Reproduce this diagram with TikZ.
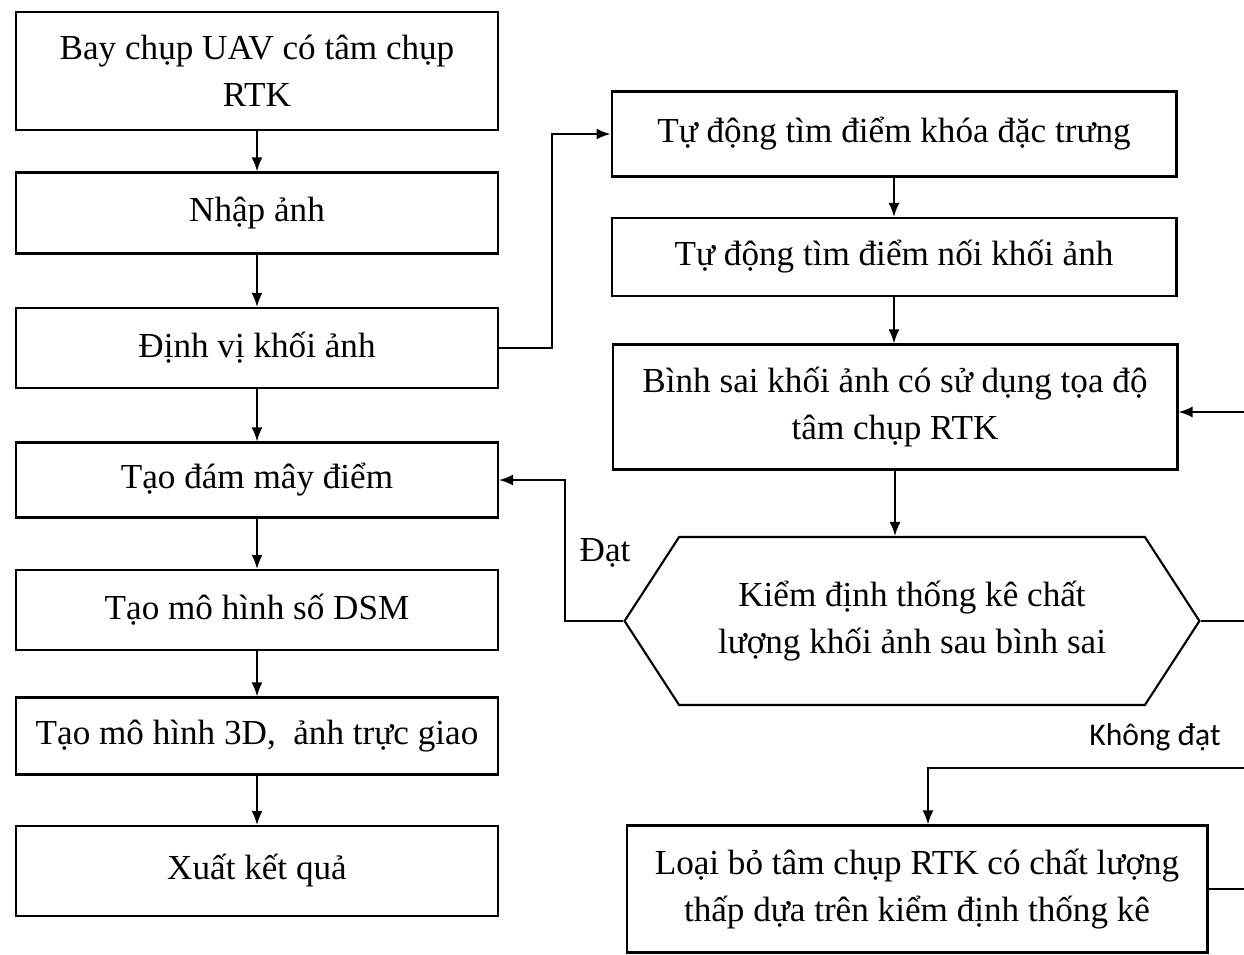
\documentclass[tikz,border=0pt]{standalone}
\usepackage{fontspec}
\setmainfont{Liberation Serif}
\newfontfamily\labelfont{Carlito}
\usetikzlibrary{arrows.meta,shapes.symbols}

\begin{document}
\begin{tikzpicture}[x=0.02cm,y=-0.02cm,>={Latex[length=2.8mm,width=2.2mm]},
  box/.style={draw,line width=1.2pt,align=center,inner sep=0pt,
    font=\fontsize{20}{27}\selectfont},
  lbox/.style={box,minimum width=9.64cm},
  rbox/.style={box,minimum width=11.3cm}]
\useasboundingbox (0,0) rectangle (1244,954);
\node[lbox,minimum height=2.36cm] (bay) at (257,71) {Bay chụp UAV có tâm chụp\\RTK};
\node[lbox,minimum height=1.62cm] (nhap) at (257,213) {Nhập ảnh};
\node[lbox,minimum height=1.6cm] (dinhvi) at (257,348) {Định vị khối ảnh};
\node[lbox,minimum height=1.5cm] (dammay) at (257,480) {Tạo đám mây điểm};
\node[lbox,minimum height=1.6cm] (dsm) at (257,610) {Tạo mô hình số DSM};
\node[lbox,minimum height=1.54cm] (mohinh) at (257,736) {Tạo mô hình 3D,\ \ ảnh trực giao};
\node[lbox,minimum height=1.8cm] (xuat) at (257,871) {Xuất kết quả};
\node[rbox,minimum height=1.7cm] (khoa) at (894,134) {Tự động tìm điểm khóa đặc trưng};
\node[rbox,minimum height=1.56cm] (noi) at (894,257) {Tự động tìm điểm nối khối ảnh};
\node[rbox,minimum height=2.5cm] (binhsai) at (895,407) {Bình sai khối ảnh có sử dụng tọa độ\\tâm chụp RTK};
\node[box,signal,signal to=east and west,signal pointer angle=114,
  minimum width=11.5cm,minimum height=3.36cm] (kiemdinh) at (912,621)
  {Kiểm định thống kê chất\\lượng khối ảnh sau bình sai};
\node[box,minimum width=11.62cm,minimum height=2.54cm] (loaibo) at (917,889)
  {Loại bỏ tâm chụp RTK có chất lượng\\thấp dựa trên kiểm định thống kê};
\node[font=\fontsize{20}{22}\selectfont] (dat) at (605,553) {Đạt};
\node[font=\labelfont\fontsize{18}{20}\selectfont] (khongdat) at (1155,737) {Không đạt};
\coordinate (r1) at (1244,412);
\coordinate (r3) at (1244,768);
\path[->,line width=1.1pt]
(bay) edge (nhap)
(nhap) edge (dinhvi)
(dinhvi) edge (dammay)
(dammay) edge (dsm)
(dsm) edge (mohinh)
(mohinh) edge (xuat)
(khoa.south) edge (khoa.south |- noi.north)
(noi.south) edge (noi.south |- binhsai.north)
(binhsai.south) edge (binhsai.south |- kiemdinh.north)
;
\draw[->,line width=1.1pt] (dinhvi.east) -- ++(53,0) |- (khoa.west);
\draw[->,line width=1.1pt] (kiemdinh.west) -- ++(-58,0) |- (dammay.east);
\draw[->,line width=1.1pt] (r1) -- (r1 -| binhsai.east);
\draw[->,line width=1.1pt] (r3) -| ([xshift=0.22cm]loaibo.north);
\draw[line width=1.1pt] (kiemdinh.east) -- (kiemdinh.east -| r1);
\draw[line width=1.1pt] (loaibo.east) -- (loaibo.east -| r1);
\end{tikzpicture}
\end{document}
